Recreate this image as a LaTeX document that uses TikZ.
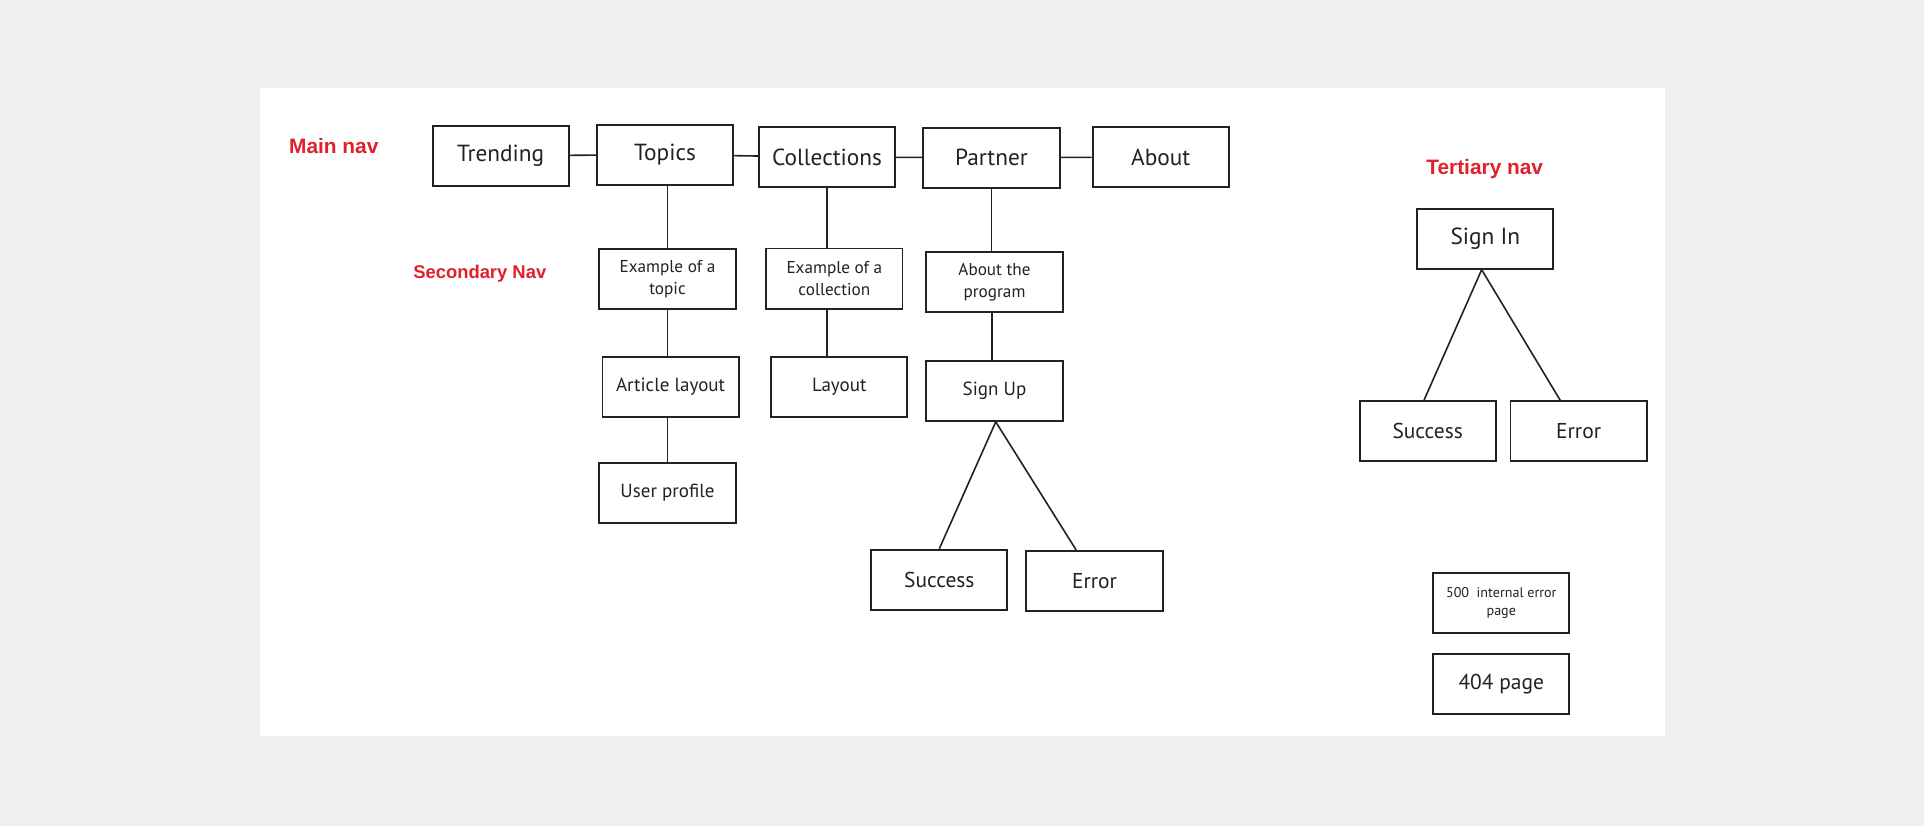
\documentclass[tikz,border=0pt]{standalone}
\usepackage{fontspec}
\setmainfont{PT Sans}
\newfontfamily\labelfont{Liberation Sans}
\definecolor{bgc}{HTML}{F0F0F0}
\definecolor{navred}{HTML}{E0202A}
\definecolor{ink}{HTML}{222222}
\tikzset{
  box/.style={draw=ink, line width=1.6pt, fill=white, minimum width=111pt, minimum height=49pt, inner sep=0pt, align=center, text=ink},
  big/.style={font=\fontsize{19}{23}\selectfont},
  mid/.style={font=\fontsize{17.5}{21}\selectfont},
  med/.style={font=\fontsize{15.5}{18}\selectfont},
  two/.style={font=\fontsize{14}{18}\selectfont},
  tiny/.style={font=\fontsize{11.5}{15}\selectfont},
  navlabel/.style={text=navred, font=\labelfont\bfseries\fontsize{17}{20}\selectfont, inner sep=0pt},
  navlabelsm/.style={navlabel, font=\labelfont\bfseries\fontsize{15}{18}\selectfont},
  conn/.style={draw=ink, line width=1.3pt}
}
\begin{document}
\begin{tikzpicture}[x=1pt,y=-1pt]
\useasboundingbox (0,0) rectangle (1568,673);
\fill[bgc] (0,0) rectangle (1568,673);
\fill[white] (212,72) rectangle (1357,600);

% labels
\node[navlabel] (mainnav) at (272,119) {Main nav};
\node[navlabelsm] (secnav) at (391,223) {Secondary Nav};
\node[navlabel] (ternav) at (1210,138) {Tertiary nav};

% main nav
\node[box,big] (trending) at (408,127) {Trending};
\node[box,big] (topics) at (542,126) {Topics};
\node[box,big] (collections) at (674,128) {Collections};
\node[box,big] (partner) at (808,128.5) {Partner};
\node[box,big] (about) at (946,128) {About};

% secondary
\node[box,two] (extopic) at (544,227.5) {Example of a\\topic};
\node[box,two] (excoll) at (680,227) {Example of a\\collection};
\node[box,two] (aboutprog) at (810.5,230) {About the\\program};
\node[box,med] (article) at (546.5,315.5) {Article layout};
\node[box,med] (layout) at (684,315.5) {Layout};
\node[box,med] (signup) at (810.5,318.5) {Sign Up};
\node[box,med] (user) at (544,401.5) {User profile};
\node[box,mid] (succ) at (765.5,472.5) {Success};
\node[box,mid] (err) at (892,473.5) {Error};

% tertiary
\node[box,big] (signin) at (1210.5,194.5) {Sign In};
\node[box,mid] (tsucc) at (1163.5,351.5) {Success};
\node[box,mid] (terr) at (1286.5,351.5) {Error};
\node[box,tiny] (e500) at (1223.5,491.5) {500\ \ internal error\\page};
\node[box,mid] (e404) at (1223.5,557.5) {404 page};

% connectors
\draw[conn] (trending) -- (topics);
\draw[conn] (topics) -- (collections);
\draw[conn] (collections) -- (partner);
\draw[conn] (partner) -- (about);
\draw[conn] (topics.south -| extopic) -- (extopic.north);
\draw[conn] (extopic.south) -- (extopic.south |- article.north);
\draw[conn] (article.south -| user) -- (user.north);
\draw[conn] ([xshift=-6pt]excoll.north |- collections.south) -- ([xshift=-6pt]excoll.north);
\draw[conn] ([xshift=-6pt]excoll.south) -- ([xshift=-6pt]excoll.south |- layout.north);
\draw[conn] (partner.south) -- (partner.south |- aboutprog.north);
\draw[conn] ([xshift=-2pt]aboutprog.south) -- ([xshift=-2pt]aboutprog.south |- signup.north);
\draw[conn] ([xshift=1pt]signup.south) -- (succ.north);
\draw[conn] ([xshift=1pt]signup.south) -- ([xshift=-15pt]err.north);
\draw[conn] ([xshift=-3pt]signin.south) -- ([xshift=-3pt]tsucc.north);
\draw[conn] ([xshift=-3pt]signin.south) -- ([xshift=-15pt]terr.north);
\end{tikzpicture}
\end{document}
